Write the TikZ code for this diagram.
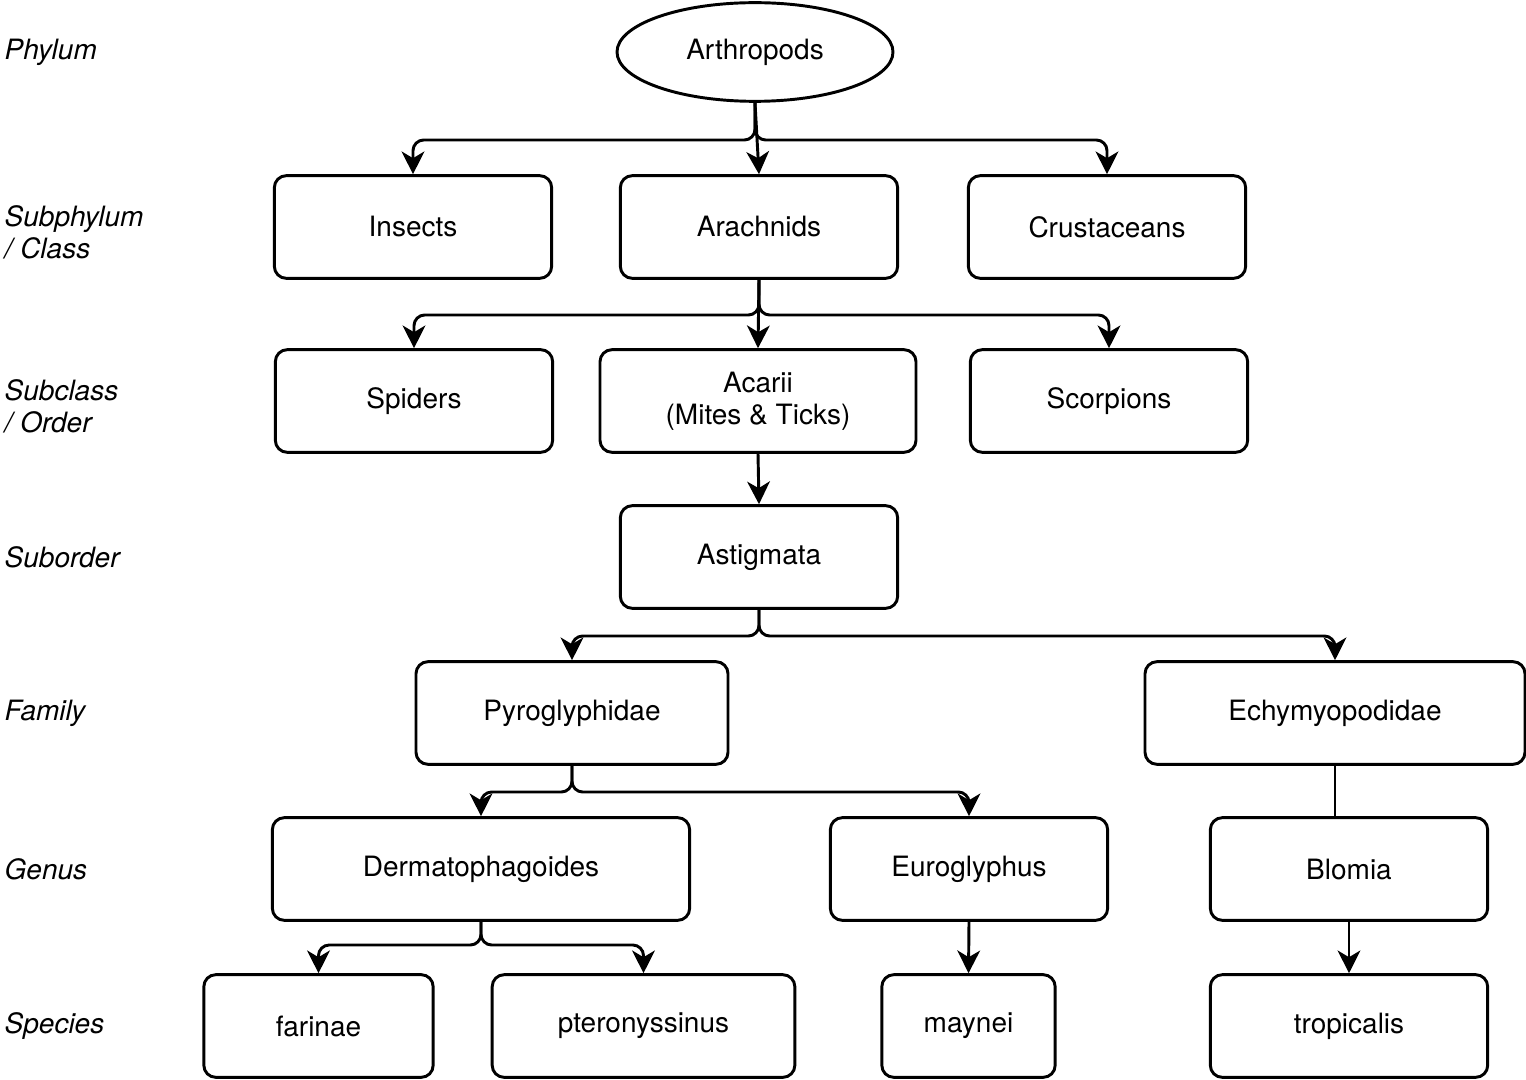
\documentclass[tikz,border=0pt]{standalone}
\usepackage{fontspec}
\setmainfont{TeX Gyre Heros}
\usetikzlibrary{arrows.meta,shapes.geometric}
\begin{document}
\begin{tikzpicture}[x=0.75pt,y=-0.75pt,
  box/.style={draw,line width=2.2pt,rounded corners=9pt,minimum height=77pt,align=center,font=\fontsize{21}{24}\selectfont,inner sep=0pt},
  oval/.style={draw,ellipse,line width=2.2pt,minimum width=207pt,minimum height=74pt,font=\fontsize{21}{24}\selectfont,inner sep=0pt},
  conn/.style={line width=2.2pt,rounded corners=8pt,-{Stealth[length=17pt,width=17pt,inset=5pt]}},
  plain/.style={line width=2.2pt},
  lvl/.style={anchor=west,align=left,font=\fontsize{21}{24}\selectfont\itshape}]
\useasboundingbox (0,0) rectangle (1526,1080);
\node[oval] (arth) at (755,52) {Arthropods};
\node[box,minimum width=208pt] (ins) at (413,227) {Insects};
\node[box,minimum width=208pt] (ara) at (759,227) {Arachnids};
\node[box,minimum width=208pt] (cru) at (1107,227) {Crustaceans};
\node[box,minimum width=208pt] (spi) at (414,401) {Spiders};
\node[box,minimum width=237pt] (aca) at (758,401) {Acarii\\(Mites \& Ticks)};
\node[box,minimum width=208pt] (sco) at (1109,401) {Scorpions};
\node[box,minimum width=208pt] (ast) at (759,557) {Astigmata};
\node[box,minimum width=234pt] (pyr) at (572,713) {Pyroglyphidae};
\node[box,minimum width=285pt] (ech) at (1335,713) {Echymyopodidae};
\node[box,minimum width=313pt] (der) at (481,869) {Dermatophagoides};
\node[box,minimum width=208pt] (eur) at (969,869) {Euroglyphus};
\node[box,minimum width=208pt] (blo) at (1349,869) {Blomia};
\node[box,minimum width=172pt] (far) at (318.5,1026) {farinae};
\node[box,minimum width=227pt] (pte) at (643.5,1026) {pteronyssinus};
\node[box,minimum width=130pt] (may) at (968.5,1026) {maynei};
\node[box,minimum width=208pt] (tro) at (1349,1026) {tropicalis};
\node[lvl] (l1) at (0,52) {Phylum};
\node[lvl] (l2) at (0,232) {Subphylum\\/ Class};
\node[lvl] (l3) at (0,406) {Subclass\\/ Order};
\node[lvl] (l4) at (0,557) {Suborder};
\node[lvl] (l5) at (0,713) {Family};
\node[lvl] (l6) at (0,869) {Genus};
\node[lvl] (l7) at (0,1026) {Species};
\coordinate (b1) at (0,140);
\coordinate (b2) at (0,315);
\coordinate (b3) at (0,636);
\coordinate (b4) at (0,792);
\coordinate (b5) at (0,945);
\draw[conn] (arth.south) |- (b1 -| ins.north) -- (ins.north);
\draw[conn] (arth.south) -- (ara.north);
\draw[conn] (arth.south) |- (b1 -| cru.north) -- (cru.north);
\draw[conn] (ara.south) |- (b2 -| spi.north) -- (spi.north);
\draw[conn] (ara.south) -- (aca.north);
\draw[conn] (ara.south) |- (b2 -| sco.north) -- (sco.north);
\draw[conn] (aca.south) -- (ast.north);
\draw[conn] (ast.south) |- (b3 -| pyr.north) -- (pyr.north);
\draw[conn] (ast.south) |- (b3 -| ech.north) -- (ech.north);
\draw[conn] (pyr.south) |- (b4 -| der.north) -- (der.north);
\draw[conn] (pyr.south) |- (b4 -| eur.north) -- (eur.north);
\draw[plain] (ech.south) -- (ech.south |- blo.north);
\draw[conn] (der.south) |- (b5 -| far.north) -- (far.north);
\draw[conn] (der.south) |- (b5 -| pte.north) -- (pte.north);
\draw[conn] (eur.south) -- (may.north);
\draw[conn] (blo.south) -- (tro.north);
\end{tikzpicture}
\end{document}
